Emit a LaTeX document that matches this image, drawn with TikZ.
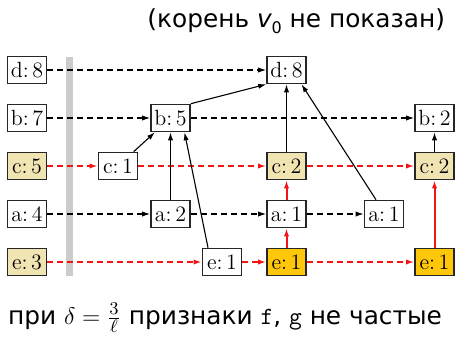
\documentclass[tikz,border=0pt]{standalone}
\usepackage{fontspec}
\newfontfamily\rusfont{DejaVu Sans}
\usetikzlibrary{arrows.meta}
\definecolor{freqcol}{RGB}{239,228,178}
\definecolor{hotcol}{RGB}{255,199,10}
\definecolor{linkred}{RGB}{245,20,20}
\newcommand{\cv}[2]{#1:\kern1.8pt#2}

\begin{document}
\begin{tikzpicture}[
    x=0.5pt, y=-0.5pt,
    >={Latex[length=4pt,width=2.6pt]},
    cnt/.style={draw=black!85, line width=0.8pt, fill=white, minimum width=19.5pt, minimum height=13.5pt, inner sep=0pt, font=\fontsize{11}{12}\selectfont},
    freq/.style={cnt, fill=freqcol},
    hot/.style={cnt, fill=hotcol},
    blkdash/.style={->, line width=0.55pt, dash pattern=on 3pt off 2pt},
    reddash/.style={->, linkred, line width=1pt, dash pattern=on 3pt off 2pt},
    tree/.style={->, line width=0.55pt},
    redtree/.style={->, linkred, line width=1pt},
    caption/.style={font=\rusfont\fontsize{12.4}{14}\selectfont},
    ]
    \useasboundingbox (0,0) rectangle (458,337);
    % separator bar
    \fill[black!20] (66,57) rectangle (73,276);
    % header table
    \node[cnt]  (d8l) at (27,70)  {\cv{d}{8}};
    \node[cnt]  (b7)  at (27,118) {\cv{b}{7}};
    \node[freq] (c5)  at (27,166) {\cv{c}{5}};
    \node[cnt]  (a4)  at (27,214) {\cv{a}{4}};
    \node[freq] (e3)  at (27,262) {\cv{e}{3}};
    % tree nodes
    \node[cnt]  (c1)  at (118,166)   {\cv{c}{1}};
    \node[cnt]  (b5)  at (170.5,118) {\cv{b}{5}};
    \node[cnt]  (a2)  at (170.5,214) {\cv{a}{2}};
    \node[cnt]  (e1a) at (222,262)   {\cv{e}{1}};
    \node[cnt]  (d8)  at (286.5,70)  {\cv{d}{8}};
    \node[freq] (c2a) at (286.5,166) {\cv{c}{2}};
    \node[cnt]  (a1a) at (286.5,214) {\cv{a}{1}};
    \node[hot]  (e1b) at (286.5,262) {\cv{e}{1}};
    \node[cnt]  (a1b) at (384,214)   {\cv{a}{1}};
    \node[cnt]  (b2)  at (434.5,118) {\cv{b}{2}};
    \node[freq] (c2b) at (434.5,166) {\cv{c}{2}};
    \node[hot]  (e1c) at (434.5,262) {\cv{e}{1}};
    % node links
    \draw[blkdash] (d8l) -- (d8);
    \draw[blkdash] (b7) -- (b5);
    \draw[blkdash] (b5) -- (b2);
    \draw[blkdash] (a4) -- (a2);
    \draw[blkdash] (a2) -- (a1a);
    \draw[blkdash] (a1a) -- (a1b);
    \draw[reddash] (c5) -- (c1);
    \draw[reddash] (c1) -- (c2a);
    \draw[reddash] (c2a) -- (c2b);
    \draw[reddash] (e3) -- (e1a);
    \draw[reddash] (e1a) -- (e1b);
    \draw[reddash] (e1b) -- (e1c);
    % parent pointers
    \draw[tree] (c1) -- (b5);
    \draw[tree] (a2) -- (b5);
    \draw[tree] ([xshift=-7pt]e1a.north) -- ([xshift=7pt]b5.south);
    \draw[tree] (b5.north east) -- (d8.south west);
    \draw[tree] (c2a) -- (d8);
    \draw[tree] ([xshift=-4pt]a1b.north) -- ([xshift=7.5pt]d8.south);
    \draw[tree] (c2b) -- (b2);
    \draw[redtree] (e1b) -- (a1a);
    \draw[redtree] (a1a) -- (c2a);
    \draw[redtree] (e1c) -- (c2b);
    % captions
    \node[caption, anchor=east] (note) at (452,21)
        {(корень {\itshape v}\raisebox{-0.45ex}{\footnotesize 0} не показан)};
    \node[caption] (cond) at (225,318)
        {при $\delta=\frac{3}{\ell}$ признаки \texttt{f}, \texttt{g} не частые};
\end{tikzpicture}
\end{document}
